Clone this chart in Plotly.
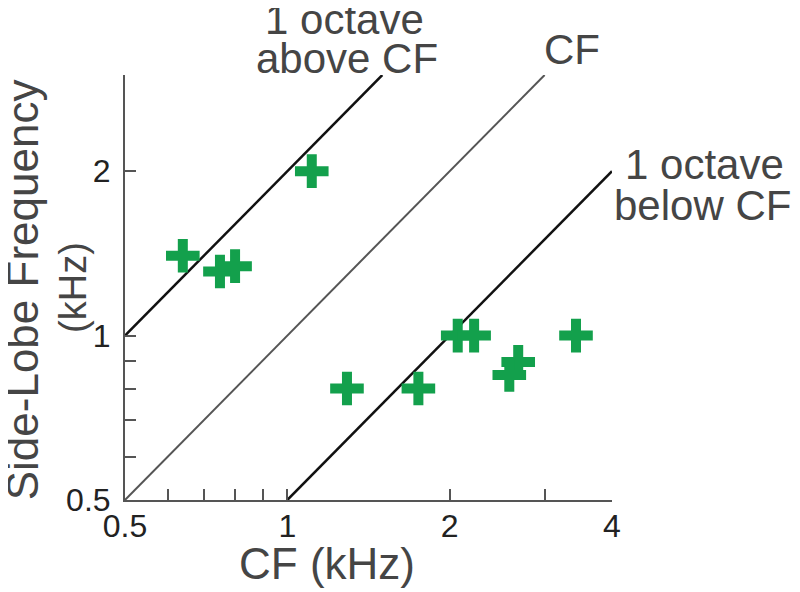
import plotly.graph_objects as go

# side-lobe frequency vs CF, both in kHz
cf_khz = [1.11, 0.64, 0.75, 0.80, 2.07, 2.22, 1.29, 1.75, 2.68, 2.58, 3.43]
sidelobe_khz = [2.0, 1.40, 1.31, 1.34, 1.0, 1.0, 0.80, 0.80, 0.895, 0.847, 1.0]

# reference lines
above_x, above_y = [0.5, 1.5], [1.0, 3.0]
cf_x, cf_y = [0.5, 3.0], [0.5, 3.0]
below_x, below_y = [1.0, 4.0], [0.5, 2.0]

x_tickvals = [0.5, 0.6, 0.7, 0.8, 0.9, 1, 2, 3, 4]
x_ticktext = ["0.5", "", "", "", "", "1", "2", "", "4"]
y_tickvals = [0.5, 0.6, 0.7, 0.8, 0.9, 1, 2, 3]
y_ticktext = ["0.5", "", "", "", "", "1", "2", ""]

FONT = "Liberation Sans, Arial, sans-serif"
TXT = "#454545"
AX = "#555555"
GREEN = "#13a04c"

fig = go.Figure()
fig.add_trace(go.Scatter(x=above_x, y=above_y, mode="lines",
                         line=dict(color="#111111", width=2.5), cliponaxis=False))
fig.add_trace(go.Scatter(x=cf_x, y=cf_y, mode="lines",
                         line=dict(color="#555555", width=2), cliponaxis=False))
fig.add_trace(go.Scatter(x=below_x, y=below_y, mode="lines",
                         line=dict(color="#111111", width=2.5), cliponaxis=False))
fig.add_trace(go.Scatter(x=cf_khz, y=sidelobe_khz, mode="markers",
                         marker=dict(symbol="cross-thin-open", size=24, color=GREEN,
                                     line=dict(width=10, color=GREEN)),
                         cliponaxis=False))

labels = [
    ("1 octave", 0.450, 1.130, 42),
    ("above CF", 0.456, 1.038, 42),
    ("CF", 0.918, 1.060, 42),
    ("1 octave", 1.189, 0.790, 42),
    ("below CF", 1.185, 0.694, 42),
    ("CF (kHz)", 0.415, -0.150, 44),
]
annotations = [dict(text=t, x=x, y=y, xref="paper", yref="paper", showarrow=False,
                    xanchor="center", yanchor="middle",
                    font=dict(family=FONT, size=s, color=TXT))
               for t, x, y, s in labels]
annotations += [
    dict(text="Side-Lobe Frequency", x=-0.211, y=0.494, xref="paper", yref="paper",
         showarrow=False, textangle=-90, xanchor="center", yanchor="middle",
         font=dict(family=FONT, size=44, color=TXT)),
    dict(text="(kHz)", x=-0.107, y=0.501, xref="paper", yref="paper",
         showarrow=False, textangle=-90, xanchor="center", yanchor="middle",
         font=dict(family=FONT, size=38, color=TXT)),
]

axis_common = dict(type="log", showgrid=False, zeroline=False,
                   showline=True, linecolor=AX, linewidth=2,
                   ticks="inside", ticklen=11, tickwidth=2, tickcolor=AX,
                   tickmode="array",
                   tickfont=dict(family=FONT, size=32, color="#222222"))

# page body has an 8px margin, so margins are trimmed to keep the plot box in place
fig.update_layout(
    width=800, height=592,
    margin=dict(l=117, r=196, t=67, b=100),
    plot_bgcolor="white", paper_bgcolor="white",
    showlegend=False,
    xaxis=dict(axis_common, range=[-0.30103, 0.60206], ticklabelstandoff=-3,
               tickvals=x_tickvals, ticktext=x_ticktext),
    yaxis=dict(axis_common, range=[-0.30103, 0.47712], ticklabelstandoff=6,
               tickvals=y_tickvals, ticktext=y_ticktext),
    annotations=annotations,
)

fig.write_html("out.html")
